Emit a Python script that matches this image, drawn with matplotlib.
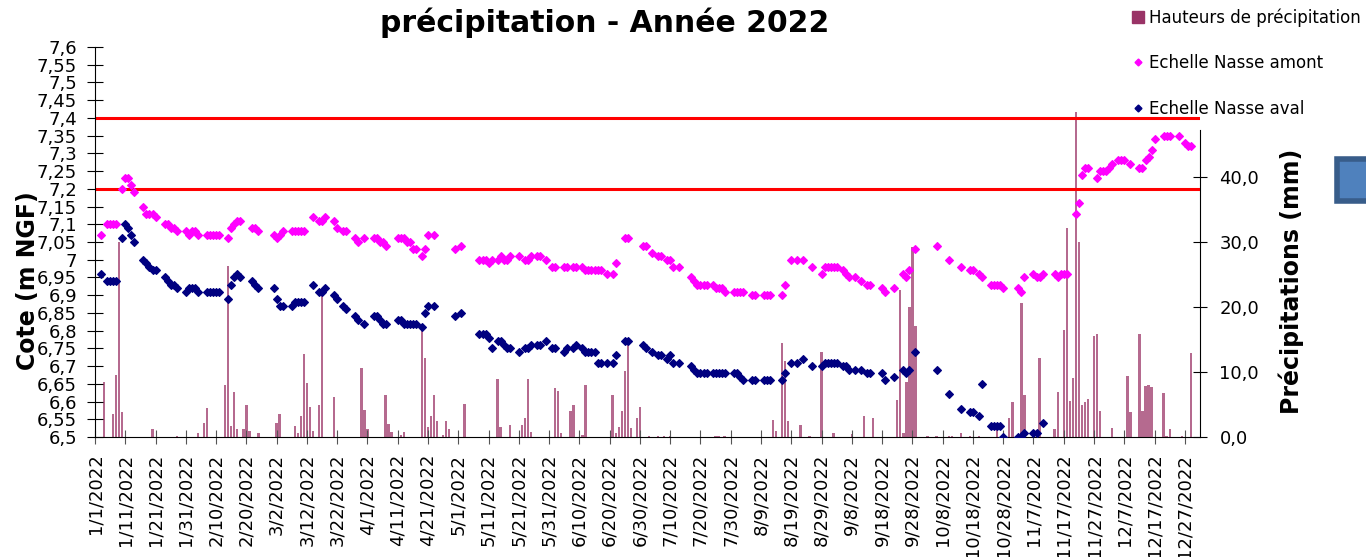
import numpy as np
import pandas as pd
import matplotlib
matplotlib.use("Agg")
import matplotlib.pyplot as plt
from matplotlib.lines import Line2D
from matplotlib.patches import Rectangle

# --- data (jour de l'annee 0 = 1/1/2022) ---
amont_jours = [2, 4, 5, 6, 7, 9, 10, 11, 12, 13, 16, 17, 18, 19, 20, 23, 24, 25, 26, 27,
               30, 31, 32, 33, 34, 37, 38, 39, 40, 41, 44, 45, 46, 47, 48, 52, 53, 54,
               59, 60, 61, 62, 65, 66, 67, 68, 69, 72, 74, 75, 76, 79, 80, 82, 83,
               86, 87, 89, 92, 93, 94, 95, 96, 100, 101, 102, 103, 104, 105, 106, 108, 109, 110, 112,
               119, 121, 127, 128, 129, 130, 131, 133, 134, 135, 136, 137, 140, 142, 143, 144, 146, 147, 149,
               151, 152, 155, 156, 158, 159, 161, 162, 163, 164, 165, 166, 167, 169, 171, 172, 175, 176,
               181, 182, 184, 186, 187, 189, 190, 191, 193, 197, 198, 199, 200, 201, 202, 204, 205, 206, 207, 208,
               211, 212, 213, 214, 217, 218, 221, 222, 223, 227, 228, 230, 232, 234,
               237, 240, 241, 242, 243, 244, 245, 247, 248, 249, 251, 253, 255, 256,
               260, 261, 264, 267, 268, 269, 271, 278, 282, 286, 289, 290, 292, 293, 296, 297, 298, 299, 300,
               305, 306, 307, 310, 311, 312, 313, 317, 318, 319, 320, 321, 324, 325, 326, 327, 328,
               331, 332, 333, 334, 335, 336, 338, 339, 340, 342, 345, 346, 347, 348, 349, 350,
               353, 354, 355, 358, 360, 361, 362]
amont_cote = [7.07, 7.10, 7.10, 7.10, 7.10, 7.20, 7.23, 7.23, 7.21, 7.19, 7.15, 7.13, 7.13, 7.13, 7.12,
              7.10, 7.10, 7.09, 7.09, 7.08, 7.08, 7.07, 7.08, 7.08, 7.07, 7.07, 7.07, 7.07, 7.07, 7.07,
              7.06, 7.09, 7.10, 7.11, 7.11, 7.09, 7.09, 7.08, 7.07, 7.06, 7.07, 7.08,
              7.08, 7.08, 7.08, 7.08, 7.08, 7.12, 7.11, 7.11, 7.12, 7.11, 7.09, 7.08, 7.08,
              7.06, 7.05, 7.06, 7.06, 7.06, 7.05, 7.05, 7.04, 7.06, 7.06, 7.06, 7.05, 7.05, 7.03, 7.03,
              7.01, 7.03, 7.07, 7.07, 7.03, 7.04, 7.00, 7.00, 7.00, 6.99, 7.00, 7.00, 7.01, 7.00, 7.00, 7.01,
              7.01, 7.00, 7.00, 7.01, 7.01, 7.01, 7.00,
              6.98, 6.98, 6.98, 6.98, 6.98, 6.98, 6.98, 6.97, 6.97, 6.97, 6.97, 6.97, 6.97, 6.96, 6.96, 6.99,
              7.06, 7.06, 7.04, 7.04, 7.02, 7.01, 7.01, 7.00, 7.00, 6.98, 6.98,
              6.95, 6.94, 6.93, 6.93, 6.93, 6.93, 6.93, 6.92, 6.92, 6.92, 6.91,
              6.91, 6.91, 6.91, 6.91, 6.90, 6.90, 6.90, 6.90, 6.90, 6.90, 6.93, 7.00, 7.00, 7.00,
              6.98, 6.96, 6.98, 6.98, 6.98, 6.98, 6.98, 6.97, 6.96, 6.95, 6.95, 6.94, 6.93, 6.93,
              6.92, 6.91, 6.92, 6.96, 6.95, 6.97, 7.03, 7.04, 7.00, 6.98, 6.97, 6.97, 6.96, 6.95,
              6.93, 6.93, 6.93, 6.93, 6.92,
              6.92, 6.91, 6.95, 6.96, 6.95, 6.95, 6.96, 6.96, 6.95, 6.96, 6.96, 6.96, 7.13, 7.16, 7.24, 7.26, 7.26,
              7.23, 7.25, 7.25, 7.25, 7.26, 7.27, 7.28, 7.28, 7.28, 7.27, 7.26, 7.26, 7.28, 7.29, 7.31, 7.34,
              7.35, 7.35, 7.35, 7.35, 7.33, 7.32, 7.32]

aval_jours = [2, 4, 5, 6, 7, 9, 10, 11, 12, 13, 16, 17, 18, 19, 20, 23, 24, 25, 26, 27,
              30, 31, 32, 33, 34, 37, 38, 39, 40, 41, 44, 45, 46, 47, 48, 52, 53, 54,
              59, 60, 61, 62, 65, 66, 67, 68, 69, 72, 74, 75, 76, 79, 80, 82, 83,
              86, 87, 89, 92, 93, 94, 95, 96, 100, 101, 102, 103, 104, 105, 106, 108, 109, 110, 112,
              119, 121, 127, 128, 129, 130, 131, 133, 134, 135, 136, 137, 140, 142, 143, 144, 146, 147, 149,
              151, 152, 155, 156, 158, 159, 161, 162, 163, 164, 165, 166, 167, 169, 171, 172, 175, 176,
              181, 182, 184, 186, 187, 189, 190, 191, 193, 197, 198, 199, 200, 201, 202, 204, 205, 206, 207, 208,
              211, 212, 213, 214, 217, 218, 221, 222, 223, 227, 228, 230, 232, 234,
              237, 240, 241, 242, 243, 244, 245, 247, 248, 249, 251, 253, 255, 256,
              260, 261, 264, 267, 268, 269, 271, 278, 282, 286, 289, 290, 292, 293, 296, 297, 298, 299, 300,
              305, 306, 307, 310, 311, 313]
aval_cote = [6.96, 6.94, 6.94, 6.94, 6.94, 7.06, 7.10, 7.09, 7.07, 7.05, 7.00, 6.99, 6.98, 6.97, 6.97,
             6.95, 6.94, 6.93, 6.93, 6.92, 6.91, 6.92, 6.92, 6.92, 6.91, 6.91, 6.91, 6.91, 6.91, 6.91,
             6.89, 6.93, 6.95, 6.96, 6.95, 6.94, 6.93, 6.92, 6.92, 6.89, 6.87, 6.87,
             6.87, 6.88, 6.88, 6.88, 6.88, 6.93, 6.91, 6.91, 6.92, 6.90, 6.89, 6.87, 6.86,
             6.84, 6.83, 6.82, 6.84, 6.84, 6.83, 6.82, 6.82, 6.83, 6.83, 6.82, 6.82, 6.82, 6.82, 6.82,
             6.81, 6.85, 6.87, 6.87, 6.84, 6.85, 6.79, 6.79, 6.79, 6.78, 6.75, 6.77, 6.77, 6.76, 6.75, 6.75,
             6.74, 6.75, 6.75, 6.76, 6.76, 6.76, 6.77,
             6.75, 6.75, 6.74, 6.75, 6.75, 6.76, 6.75, 6.74, 6.74, 6.74, 6.74, 6.71, 6.71, 6.71, 6.71, 6.73,
             6.77, 6.77, 6.76, 6.75, 6.74, 6.73, 6.73, 6.72, 6.73, 6.71, 6.71,
             6.70, 6.69, 6.68, 6.68, 6.68, 6.68, 6.68, 6.68, 6.68, 6.68, 6.68,
             6.68, 6.68, 6.67, 6.66, 6.66, 6.66, 6.66, 6.66, 6.66, 6.66, 6.68, 6.71, 6.71, 6.72,
             6.70, 6.70, 6.71, 6.71, 6.71, 6.71, 6.71, 6.70, 6.70, 6.69, 6.69, 6.69, 6.68, 6.68,
             6.68, 6.66, 6.67, 6.69, 6.68, 6.69, 6.74, 6.69, 6.62, 6.58, 6.57, 6.57, 6.56, 6.65,
             6.53, 6.53, 6.53, 6.53, 6.50,
             6.50, 6.50, 6.51, 6.51, 6.51, 6.54]

pluie_jours = [3, 6, 7, 8, 9, 19, 27, 34, 36, 37, 43, 44, 45, 46, 47, 49, 50, 51, 54, 60, 61,
               66, 67, 68, 69, 70, 71, 72, 74, 75, 79, 88, 89, 90, 96, 97, 98, 101, 102,
               108, 109, 110, 111, 112, 113, 115, 116, 117, 122, 133, 134, 137, 141, 142, 143, 144,
               152, 153, 154, 157, 158, 161, 162, 171, 172, 173, 174, 175, 176, 177, 179, 180,
               183, 186, 188, 190, 205, 206, 208, 224, 225, 227, 228, 229, 233, 236, 240, 244, 250,
               254, 257, 265, 266, 267, 268, 269, 270, 271, 275, 278, 282, 283, 286, 289, 292,
               298, 302, 303, 306, 307, 312, 317, 318, 320, 321, 322, 323, 324, 325, 326, 327, 328,
               330, 331, 332, 336, 341, 342, 345, 346, 347, 348, 349, 353, 354, 355, 359, 362]
pluie_mm = [8.4, 3.5, 9.5, 30.0, 3.8, 1.3, 0.1, 0.6, 2.2, 4.4, 8.0, 26.3, 1.7, 6.9, 1.3, 1.2, 4.9, 1.0, 0.6, 2.2, 3.5,
            1.7, 0.6, 3.2, 12.7, 8.3, 4.6, 1.0, 4.9, 22.3, 6.1, 10.6, 4.2, 1.3, 6.4, 2.0, 0.7, 0.3, 0.7,
            16.6, 12.1, 1.5, 3.2, 6.4, 2.4, 0.3, 2.5, 1.2, 5.1, 9.0, 1.6, 1.8, 1.8, 2.9, 8.9, 0.7,
            7.5, 7.1, 0.6, 4.0, 4.9, 0.3, 8.0, 6.4, 0.6, 1.6, 4.0, 10.2, 14.7, 1.4, 3.0, 4.6,
            0.2, 0.2, 0.2, 0.2, 0.2, 0.2, 0.2, 2.6, 1.0, 14.5, 11.7, 2.5, 1.8, 0.2, 13.0, 0.6, 0.5,
            3.2, 3.0, 5.7, 22.6, 0.6, 8.4, 20.0, 29.3, 17.1, 0.2, 0.2, 0.2, 0.2, 0.6, 0.2, 0.2,
            1.2, 3.0, 5.4, 20.6, 6.4, 12.2, 1.2, 7.0, 16.5, 32.2, 5.6, 9.1, 50.0, 30.0, 5.0, 5.4, 5.8,
            15.6, 15.8, 4.0, 1.4, 9.4, 3.8, 15.9, 4.0, 7.9, 8.0, 7.7, 6.8, 0.2, 1.2, 0.2, 12.9]

seuils = [7.2, 7.4]

dates = pd.date_range("2022-01-01", "2022-12-31", freq="D")
tick_jours = np.arange(0, 365, 10)
tick_labels = [f"{dates[j].month}/{dates[j].day}/{dates[j].year}" for j in tick_jours]

# --- figure ---
fig = plt.figure(figsize=(13.66, 5.57), dpi=100)
ax = fig.add_axes([95 / 1366, 1 - 437 / 557, 1105 / 1366, 390 / 557])
ax2 = ax.twinx()

ax2.bar(pluie_jours, pluie_mm, width=0.8, color="#b56a8f", zorder=1)
ax2.set_ylim(0, 60)
ax2.set_yticks([0, 10, 20, 30, 40])
ax2.set_yticklabels([f"{v:.1f}".replace(".", ",") for v in [0, 10, 20, 30, 40]])
ax2.spines["top"].set_visible(False)
ax2.spines["left"].set_visible(False)
ax2.spines["bottom"].set_visible(False)
ax2.spines["right"].set_bounds(0, 47.2)
ax2.tick_params(axis="y", direction="inout", length=10, labelsize=13, pad=9)
ax2.set_ylabel("Précipitations (mm)", fontsize=17, fontweight="bold")
ax2.yaxis.set_label_coords(1.071, 0.40)

ax.set_zorder(ax2.get_zorder() + 1)
ax.patch.set_visible(False)

for s in seuils:
    ax.axhline(s, color="red", lw=2.2, zorder=2)

ax.plot(amont_jours, amont_cote, "D", color="#ff00ff", ms=3.9, mew=0.8, linestyle="none", zorder=3)
ax.plot(aval_jours, aval_cote, "D", color="#000080", ms=3.9, mew=0.8, linestyle="none", zorder=3)

ax.set_xlim(0, 365)
ax.set_ylim(6.5, 7.6)
yt = np.round(np.arange(6.5, 7.6001, 0.05), 2)
ax.set_yticks(yt)
ax.set_yticklabels([f"{v:.2f}".rstrip("0").rstrip(".").replace(".", ",") for v in yt])
ax.set_xticks(tick_jours)
ax.set_xticklabels(tick_labels, rotation=90)
ax.tick_params(axis="y", direction="inout", length=12, labelsize=13, pad=7)
ax.tick_params(axis="x", direction="inout", length=10, labelsize=13, pad=7, color="#555555")
ax.spines["top"].set_visible(False)
ax.spines["right"].set_visible(False)
ax.set_ylabel("Cote (m NGF)", fontsize=17, fontweight="bold")
ax.yaxis.set_label_coords(-0.050, 0.40)

fig.text(605 / 1366, 1 - 23 / 557, "précipitation - Année 2022", ha="center", va="center",
         fontsize=21.5, fontweight="bold")

handles = [Line2D([], [], marker="s", color="#993366", ms=8, linestyle="none"),
           Line2D([], [], marker="D", color="#ff00ff", ms=3.5, linestyle="none"),
           Line2D([], [], marker="D", color="#000080", ms=3.5, linestyle="none")]
fig.legend(handles, ["Hauteurs de précipitation", "Echelle Nasse amont", "Echelle Nasse aval"],
           loc="upper left", bbox_to_anchor=(1128 / 1366, 1 - 4 / 557), frameon=False, fontsize=12,
           labelspacing=1.65, handlelength=0.7, handletextpad=0.3, borderaxespad=0, borderpad=0.25)

fig.add_artist(Rectangle((1337 / 1366, 1 - 201 / 557), 40 / 1366, 42 / 557, transform=fig.transFigure,
                         facecolor="#4f81bd", edgecolor="#385d8a", lw=4, clip_on=False))

fig.savefig("out.png", dpi=100)
